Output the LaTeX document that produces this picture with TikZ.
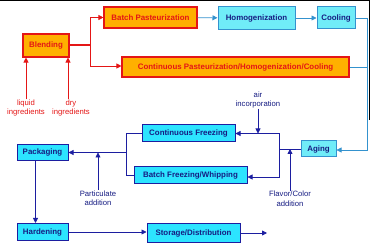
\documentclass[tikz,border=0pt]{standalone}
\usepackage{fontspec}
\setmainfont{Liberation Sans}
\usetikzlibrary{arrows.meta,positioning,calc}
\definecolor{orfill}{RGB}{255,176,0}
\definecolor{redline}{RGB}{228,22,22}
\definecolor{lcyan}{RGB}{112,236,248}
\definecolor{tealline}{RGB}{52,146,206}
\definecolor{bcyan}{RGB}{44,228,255}
\definecolor{navy}{RGB}{28,30,160}
\definecolor{navytext}{RGB}{22,28,130}

\begin{document}
\begin{tikzpicture}[x=1pt,y=-1pt,
  box/.style={draw, align=center, inner sep=1pt, font=\fontsize{7.9}{9}\selectfont\bfseries},
    orbox/.style={box, fill=orfill, draw=redline, line width=1.1pt, text=redline},
  lbox/.style={box, fill=lcyan, draw=tealline, line width=1pt, text=navytext},
  cbox/.style={box, fill=bcyan, draw=navy, line width=1pt, text=navytext},
  lbl/.style={align=center, font=\fontsize{7.7}{9.5}\selectfont, inner sep=0pt},
  redarr/.style={-{Triangle[length=5pt,width=5pt]}, redline, line width=0.8pt},
  tealarr/.style={-{Triangle[length=5pt,width=5pt]}, tealline, line width=0.8pt},
  navyarr/.style={-{Triangle[length=5pt,width=5pt]}, navy, line width=0.8pt}
]
\useasboundingbox (0,0) rectangle (370,248);
\draw[black, line width=1.2pt] (0,0.6) -- (370,0.6);
\draw[black, line width=1.2pt] (369.4,0) -- (369.4,120);
% mix stage
\node[orbox, minimum width=46pt, minimum height=23pt] (blend)  at (46,45.5)  {Blending};
\node[orbox, minimum width=93pt, minimum height=21pt] (batchp) at (150.5,17.5) {Batch Pasteurization};
\node[orbox, minimum width=227pt, minimum height=20pt] (contp) at (235.5,67) {Continuous Pasteurization/Homogenization/Cooling};
\node[lbox, minimum width=77pt, minimum height=23pt] (homog)  at (256.5,18) {Homogenization};
\node[lbox, minimum width=38pt, minimum height=22pt] (cool)   at (336,18)   {Cooling};
\node[lbox, minimum width=35pt, minimum height=16pt] (aging)  at (318.5,149) {Aging};
\node[lbl, text=redline] (liquid) at (26,108) {liquid\\ingredients};
\node[lbl, text=redline] (dry)    at (71,108) {dry\\ingredients};
% freezing stage
\node[cbox, minimum width=93pt, minimum height=17pt]  (cfreeze) at (188.5,133.5) {Continuous Freezing};
\node[cbox, minimum width=113pt, minimum height=17pt] (bfreeze) at (190.5,175.5) {Batch Freezing/Whipping};
\node[cbox, minimum width=51pt, minimum height=16pt]  (pack)    at (42.5,152.5)  {Packaging};
\node[cbox, minimum width=51pt, minimum height=17pt]  (hard)    at (42.5,232)    {Hardening};
\node[cbox, minimum width=93pt, minimum height=19pt]  (store)   at (193.5,233)   {Storage/Distribution};
\node[lbl, text=navytext] (air)   at (258,100) {air\\incorporation};
\node[lbl, text=navytext] (flav)  at (290,199) {Flavor/Color\\addition};
\node[lbl, text=navytext] (part)  at (98,198)  {Particulate\\addition};
\coordinate (outend) at (267,233);
% red connectors
\draw[redarr] (liquid.north) -- (liquid.north |- blend.south);
\draw[redarr] ([xshift=-3pt]dry.north) -- ([xshift=-3pt]dry.north |- blend.south);
\coordinate (rj) at ($(blend.east)+(21,0)$);
\draw[redline, line width=2pt] (blend.east) -- (rj);
\draw[redarr] (rj) |- (batchp.west);
\draw[redarr] (rj) |- ([yshift=1pt]contp.west);
% teal connectors
\draw[tealarr] (batchp) -- (homog);
\draw[tealarr] (homog) -- (cool);
\coordinate (tj) at ($(cool.east)+(12,0)$);
\draw[tealarr] (cool.east) -- (tj) |- ([yshift=-1pt]aging.east);
\draw[tealline, line width=0.8pt] (contp.east) -- (contp.east -| tj);
% navy connectors
\coordinate (aj) at ($(aging.west)+(-21,0)$);
\draw[navy, line width=0.8pt] (aging.west) -- (aj);
\draw[navyarr] (aj) |- (cfreeze.east);
\draw[navyarr] (aj) |- ([yshift=-1.5pt]bfreeze.east);
\draw[navyarr] (flav.north) -- (flav.north |- aging.west);
\draw[navyarr] (air.south) -- (air.south |- cfreeze.east);
\coordinate (fj) at ($(cfreeze.west)+(-15,0)$);
\draw[navy, line width=0.8pt] (cfreeze.west) -- (fj) |- (bfreeze.west);
\draw[navyarr] (fj |- pack.east) -- (pack.east);
\draw[navyarr] (part.north) -- (part.north |- pack.east);
\draw[navyarr] ([xshift=-7pt]pack.south) -- ([xshift=-7pt]pack.south |- hard.north);
\draw[navyarr] (hard.east) -- (hard.east -| store.west);
\draw[navyarr] (store.east) -- (outend);
\end{tikzpicture}
\end{document}
